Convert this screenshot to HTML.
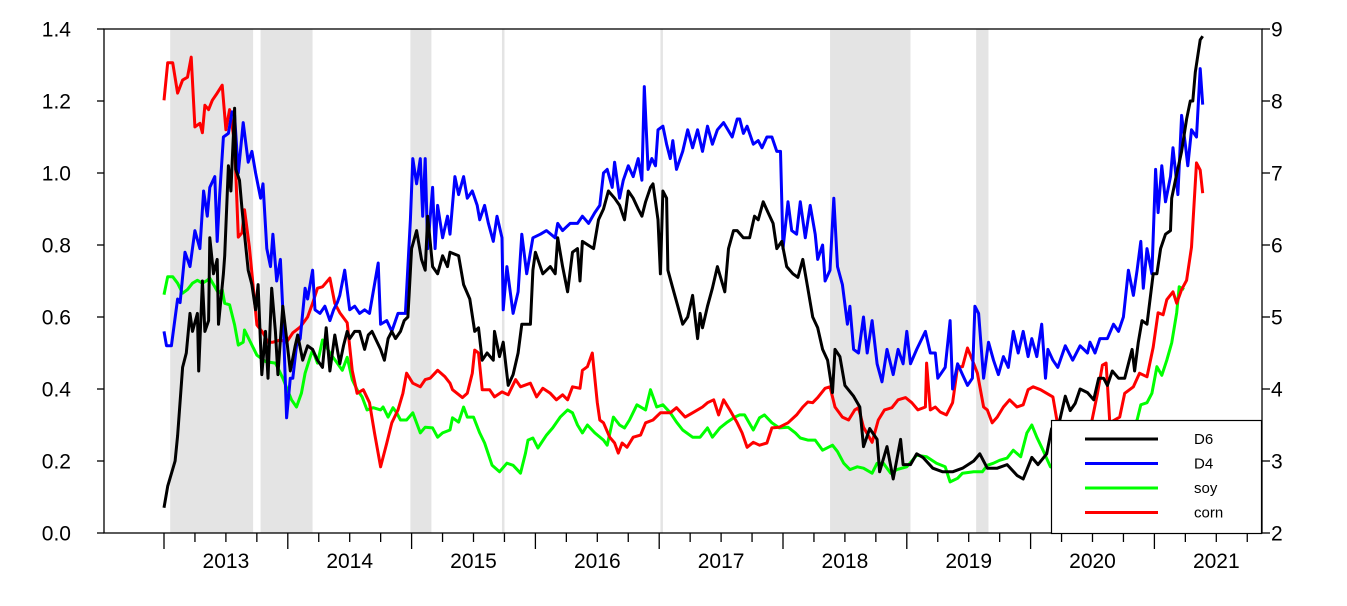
<!DOCTYPE html>
<html><head><meta charset="utf-8">
<style>
html,body{margin:0;padding:0;background:#fff;}
svg{display:block;font-family:"Liberation Sans",Arial,sans-serif;}
</style></head>
<body>
<svg id="chart" width="1347" height="606" viewBox="0 0 1347 606"></svg>
<script>
const d6Dates=[2013.00,2013.03,2013.09,2013.11,2013.15,2013.18,2013.21,2013.23,2013.27,2013.28,2013.31,2013.33,2013.36,2013.37,2013.40,2013.43,2013.44,2013.48,2013.49,2013.52,2013.54,2013.57,2013.58,2013.61,2013.63,2013.65,2013.68,2013.71,2013.74,2013.76,2013.79,2013.82,2013.84,2013.87,2013.90,2013.92,2013.96,2013.99,2014.02,2014.06,2014.08,2014.12,2014.16,2014.20,2014.24,2014.28,2014.31,2014.34,2014.38,2014.42,2014.45,2014.48,2014.50,2014.54,2014.58,2014.62,2014.65,2014.68,2014.75,2014.78,2014.81,2014.84,2014.87,2014.91,2014.94,2014.97,2015.00,2015.04,2015.08,2015.11,2015.13,2015.17,2015.21,2015.25,2015.29,2015.31,2015.38,2015.42,2015.47,2015.51,2015.54,2015.57,2015.61,2015.66,2015.67,2015.71,2015.74,2015.78,2015.82,2015.86,2015.89,2015.96,2015.98,2016.00,2016.06,2016.12,2016.16,2016.18,2016.22,2016.26,2016.30,2016.34,2016.36,2016.38,2016.47,2016.51,2016.55,2016.59,2016.64,2016.68,2016.72,2016.75,2016.79,2016.83,2016.86,2016.89,2016.93,2016.95,2016.99,2017.01,2017.03,2017.06,2017.07,2017.11,2017.15,2017.19,2017.23,2017.27,2017.31,2017.33,2017.35,2017.39,2017.43,2017.47,2017.53,2017.56,2017.60,2017.63,2017.68,2017.73,2017.77,2017.80,2017.84,2017.88,2017.92,2017.95,2017.99,2018.03,2018.08,2018.12,2018.16,2018.20,2018.24,2018.28,2018.32,2018.36,2018.40,2018.42,2018.46,2018.50,2018.57,2018.62,2018.65,2018.70,2018.76,2018.78,2018.84,2018.89,2018.95,2018.97,2019.03,2019.08,2019.13,2019.21,2019.29,2019.37,2019.45,2019.54,2019.59,2019.65,2019.73,2019.81,2019.89,2019.94,2020.01,2020.06,2020.13,2020.17,2020.22,2020.28,2020.32,2020.36,2020.40,2020.46,2020.51,2020.55,2020.59,2020.62,2020.66,2020.71,2020.76,2020.79,2020.82,2020.84,2020.87,2020.90,2020.94,2020.99,2021.02,2021.05,2021.09,2021.13,2021.14,2021.17,2021.22,2021.26,2021.29,2021.31,2021.33,2021.37,2021.39];
const d6Values=[0.07,0.13,0.20,0.27,0.46,0.50,0.61,0.56,0.61,0.45,0.70,0.56,0.59,0.82,0.72,0.76,0.58,0.72,0.77,1.02,0.95,1.18,1.01,0.98,0.90,0.83,0.73,0.69,0.62,0.69,0.44,0.56,0.43,0.68,0.56,0.44,0.63,0.54,0.45,0.52,0.55,0.48,0.52,0.51,0.48,0.46,0.57,0.45,0.55,0.47,0.52,0.56,0.54,0.56,0.56,0.51,0.55,0.56,0.51,0.48,0.54,0.56,0.54,0.56,0.59,0.60,0.79,0.84,0.76,0.73,0.88,0.74,0.72,0.77,0.74,0.78,0.77,0.69,0.65,0.56,0.57,0.48,0.50,0.48,0.56,0.49,0.53,0.41,0.44,0.50,0.58,0.58,0.73,0.78,0.72,0.74,0.72,0.82,0.74,0.67,0.78,0.79,0.70,0.81,0.79,0.87,0.90,0.95,0.93,0.91,0.87,0.95,0.93,0.90,0.88,0.92,0.96,0.97,0.87,0.72,0.95,0.93,0.73,0.68,0.63,0.58,0.60,0.66,0.54,0.61,0.57,0.63,0.68,0.74,0.67,0.79,0.84,0.84,0.82,0.82,0.88,0.87,0.92,0.89,0.86,0.79,0.81,0.74,0.72,0.71,0.76,0.68,0.60,0.57,0.51,0.48,0.39,0.51,0.49,0.41,0.38,0.35,0.24,0.29,0.26,0.17,0.24,0.15,0.26,0.19,0.19,0.22,0.21,0.18,0.17,0.17,0.18,0.20,0.22,0.18,0.18,0.19,0.16,0.15,0.21,0.19,0.22,0.29,0.29,0.38,0.34,0.36,0.40,0.39,0.37,0.43,0.43,0.41,0.45,0.43,0.43,0.47,0.51,0.45,0.53,0.59,0.58,0.72,0.72,0.79,0.83,0.84,0.93,0.98,1.06,1.15,1.20,1.20,1.28,1.37,1.38];

const d4Dates=[2013.00,2013.02,2013.06,2013.11,2013.13,2013.17,2013.21,2013.25,2013.29,2013.32,2013.35,2013.37,2013.41,2013.43,2013.45,2013.48,2013.52,2013.55,2013.57,2013.60,2013.64,2013.68,2013.71,2013.74,2013.78,2013.80,2013.83,2013.86,2013.88,2013.91,2013.94,2013.96,2013.99,2014.02,2014.04,2014.07,2014.10,2014.14,2014.16,2014.20,2014.22,2014.26,2014.30,2014.34,2014.37,2014.40,2014.42,2014.46,2014.50,2014.54,2014.58,2014.62,2014.66,2014.73,2014.75,2014.80,2014.84,2014.89,2014.95,2014.99,2015.01,2015.04,2015.07,2015.09,2015.11,2015.13,2015.17,2015.19,2015.21,2015.25,2015.29,2015.31,2015.35,2015.38,2015.42,2015.45,2015.49,2015.53,2015.55,2015.59,2015.62,2015.66,2015.69,2015.73,2015.74,2015.77,2015.82,2015.86,2015.89,2015.93,2015.98,2016.04,2016.09,2016.16,2016.18,2016.22,2016.28,2016.34,2016.38,2016.43,2016.48,2016.52,2016.55,2016.58,2016.62,2016.64,2016.68,2016.71,2016.75,2016.79,2016.83,2016.86,2016.88,2016.91,2016.94,2016.97,2016.99,2017.03,2017.06,2017.09,2017.11,2017.14,2017.19,2017.23,2017.27,2017.31,2017.35,2017.39,2017.43,2017.47,2017.52,2017.59,2017.63,2017.65,2017.68,2017.71,2017.73,2017.76,2017.80,2017.83,2017.87,2017.91,2017.95,2017.98,2018.00,2018.04,2018.07,2018.11,2018.14,2018.18,2018.22,2018.26,2018.28,2018.32,2018.34,2018.38,2018.41,2018.44,2018.48,2018.52,2018.54,2018.57,2018.61,2018.65,2018.68,2018.72,2018.76,2018.80,2018.84,2018.89,2018.93,2018.97,2019.00,2019.03,2019.08,2019.15,2019.19,2019.23,2019.25,2019.31,2019.35,2019.37,2019.41,2019.45,2019.49,2019.53,2019.55,2019.58,2019.62,2019.66,2019.70,2019.74,2019.78,2019.82,2019.86,2019.90,2019.94,2019.98,2020.01,2020.05,2020.09,2020.12,2020.14,2020.18,2020.22,2020.28,2020.34,2020.40,2020.46,2020.48,2020.52,2020.56,2020.62,2020.67,2020.71,2020.75,2020.79,2020.83,2020.86,2020.89,2020.91,2020.94,2020.98,2021.01,2021.03,2021.06,2021.09,2021.13,2021.15,2021.19,2021.22,2021.25,2021.27,2021.30,2021.34,2021.37,2021.39];
const d4Values=[0.56,0.52,0.52,0.65,0.64,0.78,0.74,0.84,0.79,0.95,0.88,0.96,0.99,0.81,0.94,1.10,1.11,1.17,1.16,1.00,1.14,1.03,1.06,1.00,0.93,0.97,0.79,0.74,0.83,0.70,0.76,0.62,0.32,0.43,0.43,0.52,0.54,0.68,0.65,0.73,0.62,0.61,0.63,0.59,0.62,0.64,0.66,0.73,0.62,0.63,0.61,0.62,0.61,0.75,0.58,0.59,0.56,0.61,0.61,0.87,1.04,0.97,1.04,0.88,1.04,0.79,0.96,0.79,0.91,0.82,0.88,0.83,0.99,0.94,0.99,0.93,0.95,0.91,0.87,0.91,0.86,0.81,0.88,0.82,0.62,0.74,0.61,0.67,0.83,0.72,0.82,0.83,0.84,0.82,0.86,0.84,0.86,0.86,0.88,0.86,0.89,0.91,1.00,1.01,0.96,1.03,0.93,0.98,1.02,0.99,1.04,0.98,1.24,1.01,1.04,1.02,1.12,1.13,1.08,1.04,1.09,1.01,1.06,1.12,1.07,1.12,1.06,1.13,1.08,1.12,1.14,1.10,1.15,1.15,1.11,1.13,1.11,1.08,1.09,1.07,1.10,1.10,1.06,1.06,0.79,0.92,0.84,0.83,0.92,0.82,0.91,0.83,0.76,0.80,0.70,0.73,0.93,0.74,0.69,0.58,0.63,0.51,0.50,0.60,0.50,0.59,0.47,0.42,0.51,0.44,0.51,0.47,0.56,0.47,0.51,0.56,0.50,0.50,0.43,0.46,0.59,0.40,0.47,0.44,0.41,0.43,0.63,0.61,0.43,0.53,0.48,0.44,0.49,0.46,0.56,0.50,0.56,0.49,0.54,0.49,0.58,0.43,0.51,0.48,0.46,0.52,0.48,0.52,0.50,0.53,0.50,0.54,0.54,0.58,0.56,0.60,0.73,0.66,0.73,0.81,0.68,0.79,0.72,1.01,0.89,1.02,0.92,0.99,1.07,0.94,1.16,1.08,1.02,1.12,1.10,1.29,1.19];

const cornDates=[2013.00,2013.03,2013.07,2013.11,2013.15,2013.19,2013.22,2013.25,2013.29,2013.31,2013.33,2013.36,2013.39,2013.43,2013.47,2013.50,2013.53,2013.57,2013.60,2013.63,2013.65,2013.69,2013.75,2013.80,2013.84,2013.88,2013.94,2013.99,2014.04,2014.10,2014.16,2014.20,2014.24,2014.28,2014.34,2014.38,2014.42,2014.48,2014.52,2014.56,2014.61,2014.66,2014.70,2014.75,2014.80,2014.84,2014.89,2014.93,2014.96,2015.01,2015.07,2015.11,2015.15,2015.21,2015.27,2015.31,2015.33,2015.41,2015.45,2015.49,2015.51,2015.54,2015.57,2015.63,2015.67,2015.73,2015.78,2015.84,2015.88,2015.96,2016.01,2016.06,2016.12,2016.17,2016.22,2016.26,2016.30,2016.36,2016.38,2016.42,2016.46,2016.50,2016.52,2016.55,2016.60,2016.64,2016.67,2016.70,2016.74,2016.79,2016.85,2016.89,2016.95,2017.01,2017.09,2017.14,2017.21,2017.27,2017.35,2017.39,2017.44,2017.48,2017.52,2017.57,2017.63,2017.67,2017.71,2017.76,2017.81,2017.87,2017.91,2017.97,2018.04,2018.11,2018.16,2018.20,2018.24,2018.28,2018.34,2018.38,2018.42,2018.48,2018.53,2018.58,2018.61,2018.65,2018.72,2018.77,2018.82,2018.88,2018.93,2018.99,2019.04,2019.09,2019.15,2019.16,2019.19,2019.23,2019.27,2019.32,2019.37,2019.41,2019.45,2019.49,2019.53,2019.57,2019.62,2019.65,2019.69,2019.73,2019.78,2019.83,2019.89,2019.94,2019.98,2020.02,2020.08,2020.13,2020.18,2020.24,2020.32,2020.40,2020.48,2020.54,2020.58,2020.61,2020.64,2020.72,2020.76,2020.83,2020.88,2020.94,2020.99,2021.03,2021.07,2021.10,2021.15,2021.18,2021.22,2021.26,2021.30,2021.34,2021.37,2021.39];
const cornValues=[8.01,8.53,8.53,8.11,8.29,8.33,8.61,7.64,7.69,7.56,7.94,7.88,8.01,8.11,8.22,7.60,7.88,7.42,6.11,6.17,6.49,5.97,4.89,4.78,4.65,4.65,4.68,4.65,4.78,4.86,5.00,5.19,5.40,5.42,5.54,5.19,5.06,4.92,4.26,3.94,3.99,3.81,3.39,2.92,3.25,3.53,3.71,3.94,4.22,4.08,4.03,4.13,4.15,4.26,4.17,4.08,3.99,3.88,3.94,4.22,4.54,4.50,3.99,3.99,3.89,3.96,3.92,4.13,4.03,4.08,3.89,4.01,3.94,3.85,3.92,3.85,4.03,4.01,4.26,4.31,4.50,3.81,3.57,3.53,3.33,3.25,3.11,3.25,3.19,3.33,3.36,3.53,3.57,3.67,3.67,3.74,3.61,3.67,3.75,3.81,3.85,3.64,3.85,3.71,3.53,3.39,3.19,3.26,3.22,3.25,3.46,3.47,3.53,3.64,3.75,3.82,3.81,3.88,4.01,4.03,3.75,3.61,3.57,3.71,3.74,3.47,3.26,3.57,3.71,3.74,3.85,3.88,3.81,3.71,3.75,4.36,3.71,3.75,3.68,3.64,3.81,4.31,4.31,4.57,4.40,4.22,3.75,3.71,3.53,3.61,3.75,3.85,3.75,3.78,3.99,4.03,3.99,3.94,3.89,3.29,3.15,3.15,3.43,3.94,4.33,4.36,3.53,3.61,3.94,4.03,4.22,4.17,4.58,5.06,5.03,5.24,5.35,5.19,5.38,5.51,5.97,7.14,7.04,6.72];

const soyDates=[2013.00,2013.03,2013.07,2013.11,2013.15,2013.19,2013.23,2013.27,2013.31,2013.35,2013.37,2013.41,2013.44,2013.47,2013.49,2013.53,2013.57,2013.60,2013.64,2013.65,2013.69,2013.75,2013.82,2013.90,2013.94,2013.96,2014.03,2014.07,2014.11,2014.14,2014.18,2014.20,2014.24,2014.28,2014.34,2014.40,2014.44,2014.48,2014.52,2014.56,2014.60,2014.64,2014.69,2014.75,2014.77,2014.81,2014.85,2014.88,2014.91,2014.96,2015.01,2015.07,2015.11,2015.17,2015.21,2015.25,2015.31,2015.33,2015.38,2015.42,2015.45,2015.50,2015.55,2015.59,2015.65,2015.71,2015.77,2015.82,2015.88,2015.92,2015.94,2015.98,2016.02,2016.09,2016.14,2016.20,2016.26,2016.30,2016.34,2016.38,2016.42,2016.48,2016.55,2016.58,2016.63,2016.68,2016.72,2016.76,2016.82,2016.89,2016.93,2016.98,2017.03,2017.09,2017.14,2017.19,2017.27,2017.33,2017.39,2017.43,2017.49,2017.55,2017.61,2017.65,2017.69,2017.76,2017.81,2017.85,2017.91,2017.97,2018.04,2018.10,2018.14,2018.20,2018.26,2018.32,2018.40,2018.44,2018.49,2018.54,2018.60,2018.65,2018.72,2018.76,2018.81,2018.87,2018.92,2019.00,2019.08,2019.16,2019.24,2019.31,2019.35,2019.41,2019.45,2019.54,2019.61,2019.65,2019.70,2019.75,2019.81,2019.86,2019.92,2019.97,2020.01,2020.05,2020.10,2020.16,2020.24,2020.40,2020.56,2020.72,2020.86,2020.89,2020.94,2020.98,2021.02,2021.06,2021.10,2021.14,2021.18,2021.20,2021.24];
const soyValues=[5.31,5.56,5.56,5.47,5.33,5.38,5.47,5.51,5.47,5.51,5.54,5.42,5.33,5.38,5.19,5.17,4.89,4.61,4.65,4.82,4.68,4.47,4.38,4.36,4.22,4.15,3.85,3.75,3.94,4.22,4.44,4.54,4.36,4.68,4.50,4.36,4.26,4.44,4.13,3.99,3.89,3.71,3.74,3.71,3.75,3.61,3.74,3.67,3.57,3.57,3.67,3.39,3.47,3.46,3.33,3.39,3.43,3.60,3.54,3.75,3.61,3.61,3.39,3.25,2.94,2.85,2.97,2.94,2.83,3.11,3.29,3.32,3.18,3.36,3.46,3.61,3.71,3.67,3.50,3.39,3.50,3.39,3.29,3.22,3.61,3.50,3.46,3.57,3.78,3.71,3.99,3.75,3.78,3.67,3.54,3.43,3.33,3.33,3.46,3.33,3.46,3.54,3.61,3.64,3.64,3.43,3.60,3.64,3.53,3.46,3.47,3.39,3.32,3.29,3.29,3.15,3.22,3.13,2.97,2.88,2.92,2.90,2.83,2.97,2.97,2.83,2.88,2.92,3.08,3.06,2.97,2.92,2.71,2.76,2.83,2.85,2.85,2.94,2.97,3.01,3.04,3.15,3.06,3.39,3.50,3.33,3.15,2.92,2.88,2.94,3.08,3.29,3.57,3.78,3.81,3.94,4.31,4.19,4.40,4.64,5.06,5.42,5.38];

const shadeStarts=[2013.05,2013.78,2014.99,2015.73,2017.01,2018.38,2019.56];
const shadeEnds=[2013.72,2014.20,2015.16,2015.75,2017.03,2019.03,2019.66];
const yearLabels=["2013","2014","2015","2016","2017","2018","2019","2020","2021"];
const leftTicks=[0.0,0.2,0.4,0.6,0.8,1.0,1.2,1.4];
const rightTicks=[2,3,4,5,6,7,8,9];
const legendNames=["D6","D4","soy","corn"];
const legendColors=["#000000","#0000ff","#00ff00","#ff0000"];

const L=104,R=1262,T=29,B=533;
const X0=164,YW=123.8;
function xs(t){return X0+(t-2013)*YW;}
function yl(v){return B-(v-0)/(1.4-0)*(B-T);}
function yr(v){return B-(v-2)/(9-2)*(B-T);}
const NS="http://www.w3.org/2000/svg";
const svg=document.getElementById('chart');
function mk(tag,attrs,parent){const e=document.createElementNS(NS,tag);for(const k in attrs)e.setAttribute(k,attrs[k]);(parent||svg).appendChild(e);return e;}

for(let i=0;i<shadeStarts.length;i++){
  const r=mk('rect',{x:xs(shadeStarts[i]),y:T,width:Math.max(2.5,xs(shadeEnds[i])-xs(shadeStarts[i])),height:B-T,fill:'#e4e4e4'});
  
  
}
function series(dates,vals,scale,color,name){
  let d='';
  for(let i=0;i<dates.length;i++){d+=(i?'L':'M')+xs(dates[i]).toFixed(1)+','+scale(vals[i]).toFixed(1);}
  const p=mk('path',{d:d,fill:'none',stroke:color,'stroke-width':3,'stroke-linejoin':'round'});
  
  
}
series(soyDates,soyValues,yr,'#00ff00','soy-line');
series(cornDates,cornValues,yr,'#ff0000','corn-line');
series(d4Dates,d4Values,yl,'#0000ff','d4-line');
series(d6Dates,d6Values,yl,'#000000','d6-line');

const fr=mk('rect',{x:L,y:T,width:R-L,height:B-T,fill:'none',stroke:'#000','stroke-width':1.3});



for(let q=0;q<=36;q++){
  const x=X0+q*YW/4; if(x>R)break;
  const major=q%4===0;
  mk('line',{x1:x,y1:B,x2:x,y2:B+(major?16:9),stroke:'#000','stroke-width':1.3});
}
yearLabels.forEach((lab,i)=>{
  const t=mk('text',{x:xs(2013+i+0.5),y:568,'text-anchor':'middle','font-size':21,fill:'#000'});
  t.textContent=lab;
  
  
});
leftTicks.forEach(v=>{
  const y=yl(v);
  mk('line',{x1:L-7,y1:y,x2:L,y2:y,stroke:'#000','stroke-width':1.3});
  const t=mk('text',{x:71,y:y+7.5,'text-anchor':'end','font-size':21,fill:'#000'});
  t.textContent=v.toFixed(1);
  
  
});
rightTicks.forEach(v=>{
  const y=yr(v);
  mk('line',{x1:R,y1:y,x2:R+8,y2:y,stroke:'#000','stroke-width':1.3});
  const t=mk('text',{x:1271,y:y+7.5,'text-anchor':'start','font-size':21,fill:'#000'});
  t.textContent=String(v);
  
  
});

const lg=mk('g',{});


mk('rect',{x:1051.5,y:420.5,width:210,height:113,fill:'#fff',stroke:'#000','stroke-width':1.2},lg);
legendNames.forEach((n,i)=>{
  const y=439+i*24.5;
  const g=mk('g',{},lg);
  
  
  mk('line',{x1:1085,y1:y,x2:1158,y2:y,stroke:legendColors[i],'stroke-width':3},g);
  const t=mk('text',{x:1194,y:y+5,'font-size':15,fill:'#000'},g);
  t.textContent=n;
});
</script>
</body></html>
